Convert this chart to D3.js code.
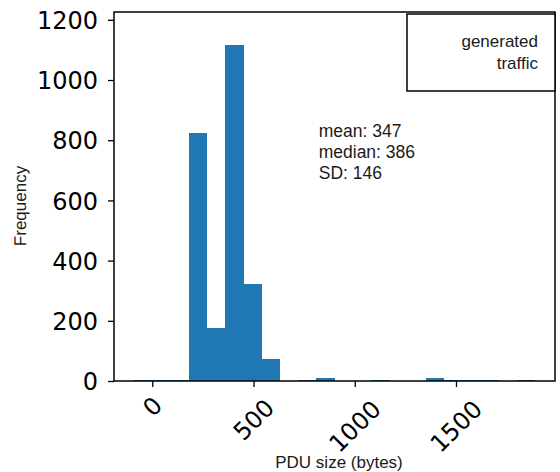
<!DOCTYPE html>
<html>
<head>
<meta charset="utf-8">
<script src="https://cdn.jsdelivr.net/npm/d3@7"></script>
<style>
    body { margin: 0; background: #fff; }
    .tick-label { font-family: "DejaVu Sans", sans-serif; font-size: 24px; fill: #000; }
    .axis-label, .note { font-family: "Liberation Sans", Arial, sans-serif; font-size: 17px; fill: #1a1a1a; }
    .stats { font-size: 17.5px; }
    .bar { shape-rendering: crispEdges; }
    .y-label { text-rendering: geometricPrecision; }
</style>
</head>
<body>
<div id="chart"></div>
<script>
// histogram bins (PDU size, bytes) and counts
var binStart = -90;
var binWidth = 90;
var counts = [2, 2, 2, 825, 176, 1118, 322, 72, 0, 2, 11, 0, 0, 2, 0, 0, 10, 2, 2, 2, 0, 2];

var xTicks = [0, 500, 1000, 1500];
var yTicks = [0, 200, 400, 600, 800, 1000, 1200];

var xDomain = [-189, 1989];
var yDomain = [0, 1226];

var statsLines = ["mean: 347", "median: 386", "SD: 146"];
var legendLines = ["generated", "traffic"];

var margin = { top: 12, right: 5, bottom: 91, left: 114 };
var totalW = 560, totalH = 472;
var width = totalW - margin.left - margin.right,
    height = totalH - margin.top - margin.bottom;

var svg = d3.select('#chart')
    .append('svg')
    .attr('width', totalW)
    .attr('height', totalH)
    .append('g')
    .attr('transform', 'translate(' + margin.left + ',' + margin.top + ')');

var x = d3.scaleLinear().domain(xDomain).range([0, width]);
var y = d3.scaleLinear().domain(yDomain).range([height, 0]);

var bins = counts.map(function(c, i) {
    return { x0: binStart + i * binWidth, x1: binStart + (i + 1) * binWidth, count: c };
});

// Bars
svg.selectAll('.bar')
    .data(bins)
    .enter()
    .append('rect')
    .attr('class', 'bar')
    .attr('x', function(d) { return x(d.x0); })
    .attr('width', function(d) { return x(d.x1) - x(d.x0) + 0.5; })
    .attr('y', function(d) { return y(d.count); })
    .attr('height', function(d) { return height - y(d.count); })
    .attr('fill', '#1f77b4');

// Axes
var xAxis = d3.axisBottom(x).tickValues(xTicks).tickSize(6).tickFormat(d3.format('d'));
var yAxis = d3.axisLeft(y).tickValues(yTicks).tickSize(6).tickFormat(d3.format('d'));

var gx = svg.append('g')
    .attr('class', 'x-axis axis')
    .attr('transform', 'translate(0,' + height + ')')
    .call(xAxis);

var gy = svg.append('g')
    .attr('class', 'y-axis axis')
    .call(yAxis);

[gx, gy].forEach(function(g) {
    g.select('.domain').remove();
    g.selectAll('.tick line').attr('stroke', '#000').attr('stroke-width', 1.3);
});

gy.selectAll('.tick text')
    .attr('class', 'tick-label')
    .attr('x', -16)
    .attr('dy', '0.36em')
    .attr('font-size', null)
    .attr('font-family', null);

// rotated x labels: centred on the tick, top of rotated box just under tick
gx.selectAll('.tick text')
    .attr('class', 'tick-label')
    .attr('font-size', null)
    .attr('font-family', null)
    .attr('y', 0)
    .attr('dy', 0)
    .each(function() {
        var t = d3.select(this);
        var bb = this.getBBox();
        var h = bb.height * 0.82;
        var boxH = (bb.width + h) / Math.SQRT2;
        t.attr('text-anchor', 'middle')
            .attr('dominant-baseline', 'central')
            .attr('transform', 'translate(0,' + (11 + boxH / 2 + bb.width * 0.08) + ') rotate(-45)');
    });

// Frame
svg.append('rect')
    .attr('width', width)
    .attr('height', height)
    .attr('fill', 'none')
    .attr('stroke', '#000')
    .attr('stroke-width', 1.5);

// Axis labels
svg.append('text')
    .attr('class', 'axis-label')
    .attr('text-anchor', 'middle')
    .attr('x', Math.round(x(1000) - 16))
    .attr('y', height + 87)
    .text('PDU size (bytes)');

svg.append('text')
    .attr('class', 'axis-label y-label')
    .attr('text-anchor', 'middle')
    .attr('opacity', 0.99)
    .attr('transform', 'translate(-88,' + Math.round(y(580)) + ') rotate(-90)')
    .text('Frequency');

// Stats text
svg.append('g')
    .selectAll('text')
    .data(statsLines)
    .enter()
    .append('text')
    .attr('class', 'note stats')
    .attr('x', x(822))
    .attr('y', function(d, i) { return 125 + i * 21; })
    .text(function(d) { return d; });

// Legend box
var legendX = Math.round(x(1257));
var legend = svg.append('g')
    .attr('transform', 'translate(' + legendX + ',2)');

legend.append('rect')
    .attr('width', width - legendX)
    .attr('height', 77)
    .attr('fill', '#fff')
    .attr('stroke', '#000')
    .attr('stroke-width', 1.5);

legend.selectAll('.legend-text')
    .data(legendLines)
    .enter()
    .append('text')
    .attr('class', 'note legend-text')
    .attr('text-anchor', 'end')
    .attr('x', width - legendX - 17)
    .attr('y', function(d, i) { return 33 + i * 22; })
    .text(function(d) { return d; });
</script>
</body>
</html>
